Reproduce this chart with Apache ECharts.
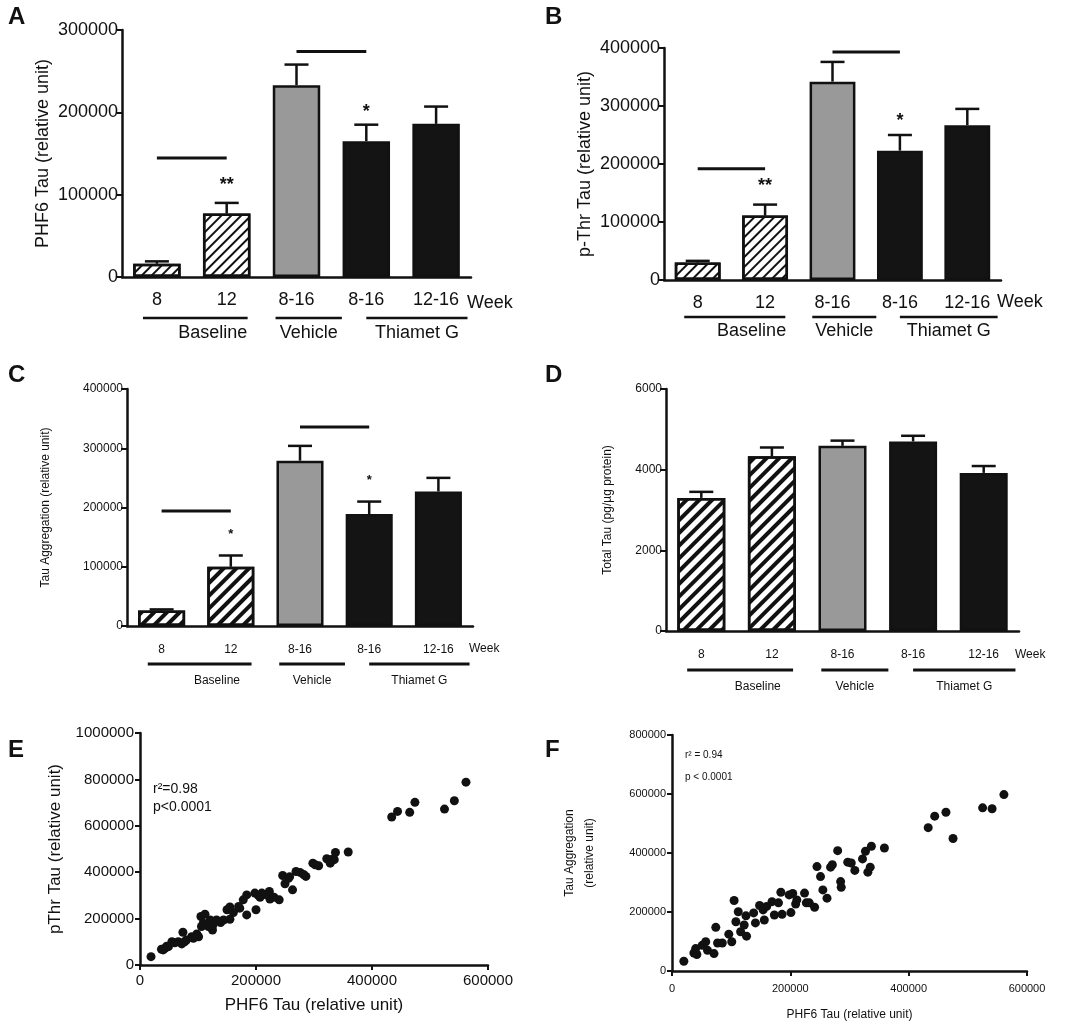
<!DOCTYPE html>
<html><head><meta charset="utf-8">
<script src="https://cdn.jsdelivr.net/npm/echarts@6/dist/echarts.min.js"></script>
<style>html,body{margin:0;background:#fff}#main{width:1078px;height:1034px}</style>
</head><body><div id="main"></div>
<script>
var weeks = ['8', '12', '8-16', '8-16', '12-16'];
// bar means and top of error bars
var phf6Mean = [16000, 77000, 233000, 165000, 186000];
var phf6Err = [19000, 90000, 258000, 185000, 207000];
var pthrMean = [30000, 111000, 342000, 223000, 267000];
var pthrErr = [33000, 130000, 376000, 250000, 295000];
var aggMean = [26000, 100000, 279000, 189000, 227000];
var aggErr = [28000, 119000, 304000, 210000, 250000];
var totalMean = [3300, 4330, 4590, 4700, 3920];
var totalErr = [3450, 4550, 4720, 4840, 4090];
// significance: [from cat, to cat, level], stars: [cat, value, text]
var sigA = [[0, 1, 144500], [2, 3, 274000]], starA = [[1, 112000, '**'], [3, 200000, '*']];
var sigB = [[0, 1, 192000], [2, 3, 393000]], starB = [[1, 162000, '**'], [3, 274000, '*']];
var sigC = [[0, 1, 194000], [2, 3, 336000]], starC = [[1, 155000, '*'], [3, 245000, '*']];

// scatter E: PHF6 vs pThr
var scatterE = [[19000,36000],[37000,68000],[43000,72000],[49000,79000],[55000,100000],[60000,96000],[72000,91000],[74000,141000],
[80000,108000],[89000,122000],[98000,134000],[101000,122000],[105000,209000],[112000,219000],[106000,166000],[115000,177000],
[121000,194000],[125000,151000],[126000,173000],[139000,183000],[150000,238000],[155000,197000],[161000,226000],[170000,252000],
[178000,281000],[184000,302000],[184000,216000],[198000,310000],[200000,238000],[207000,292000],[210000,310000],[223000,317000],
[224000,284000],[231000,292000],[240000,281000],[246000,386000],[250000,350000],[256000,374000],[263000,324000],[269000,403000],
[276000,399000],[286000,382000],[298000,439000],[308000,428000],[322000,458000],[328000,439000],[335000,454000],[337000,485000],
[359000,487000],[434000,638000],[444000,662000],[465000,658000],[474000,701000],[525000,672000],[542000,708000],[562000,788000],
[40000,65000],[46000,81000],[66000,100000],[77000,100000],[92000,115000],[109000,180000],[118000,166000],[132000,194000],
[144000,194000],[155000,250000],[172000,245000],[204000,300000],[216000,304000],[258000,380000],[282000,390000],[302000,432000],[330000,455000]];
// scatter F: PHF6 vs Tau aggregation
var scatterF = [[20000,33000],[37000,61000],[42000,56000],[40000,76000],[51000,87000],[57000,99000],[60000,70000],[71000,59000],
[74000,148000],[77000,95000],[85000,95000],[96000,125000],[101000,99000],[105000,239000],[108000,167000],[112000,201000],
[116000,133000],[122000,156000],[125000,187000],[126000,118000],[138000,197000],[141000,163000],[148000,222000],[154000,207000],
[156000,173000],[160000,219000],[169000,235000],[173000,190000],[180000,231000],[184000,267000],[186000,192000],[198000,258000],
[201000,198000],[204000,263000],[209000,227000],[211000,241000],[224000,264000],[227000,231000],[232000,231000],[241000,216000],
[245000,354000],[251000,320000],[255000,275000],[262000,247000],[268000,352000],[271000,360000],[280000,408000],[285000,303000],
[286000,284000],[297000,369000],[303000,366000],[309000,341000],[322000,380000],[327000,406000],[331000,335000],[335000,352000],
[337000,423000],[359000,417000],[433000,486000],[444000,525000],[463000,538000],[475000,449000],[525000,553000],[541000,550000],[561000,598000]];

var FONT = 'Liberation Sans';
var myChart = echarts.init(document.getElementById('main'));
var plain = function(v) { return String(v); }; // no thousands separators

var panels = [
	{ grid: {left: 122, top: 30, width: 349, height: 247}, max: 300000, interval: 100000, mean: phf6Mean, err: phf6Err, sig: sigA, star: starA,
		title: 'PHF6 Tau (relative unit)', fs: 18, nameGap: 70, hatch: [1.5, 5], big: true },
	{ grid: {left: 664, top: 48, width: 337, height: 232}, max: 400000, interval: 100000, mean: pthrMean, err: pthrErr, sig: sigB, star: starB,
		title: 'p-Thr Tau (relative unit)', fs: 18, nameGap: 70, hatch: [1.5, 5], big: true },
	{ grid: {left: 127, top: 389, width: 346, height: 237}, max: 400000, interval: 100000, mean: aggMean, err: aggErr, sig: sigC, star: starC,
		title: 'Tau Aggregation (relative unit)', fs: 12, nameGap: 75, hatch: [3.5, 5], big: false },
	{ grid: {left: 666, top: 389, width: 353, height: 242}, max: 6000, interval: 2000, mean: totalMean, err: totalErr, sig: [], star: [],
		title: 'Total Tau (pg/µg protein)', fs: 12, nameGap: 52, hatch: [3.5, 5], big: false }
];

var grids = [], xAxes = [], yAxes = [], series = [], graphics = [];
var barColors = ['#fff', '#fff', '#999', '#141414', '#141414'];

panels.forEach(function(p, k) {
	grids.push(p.grid);
	xAxes.push({ gridIndex: k, type: 'category', data: weeks,
		axisLine: {lineStyle: {color: '#111', width: 2.5}},
		axisTick: {alignWithLabel: true, length: 6, lineStyle: {width: 2, color: '#111'}},
		axisLabel: {color: '#111', fontSize: p.big ? 18 : 12, fontFamily: FONT, margin: p.big ? 14 : 18} });
	yAxes.push({ gridIndex: k, type: 'value', min: 0, max: p.max, interval: p.interval,
		name: p.title, nameLocation: 'middle', nameGap: p.nameGap,
		nameTextStyle: {fontSize: p.fs, fontFamily: FONT, color: '#111'},
		splitLine: {show: false},
		axisLine: {show: true, lineStyle: {color: '#111', width: 2.5}},
		axisTick: {show: true, length: 6, lineStyle: {width: 2, color: '#111'}},
		axisLabel: {color: '#111', fontSize: p.big ? 18 : 12, fontFamily: FONT, margin: 4, formatter: plain} });
	series.push({ type: 'bar', xAxisIndex: k, yAxisIndex: k, barWidth: '68%',
		data: p.mean.map(function(v, i) {
			var it = {value: v, itemStyle: {color: barColors[i], borderColor: '#111', borderWidth: 2.5}};
			if (i < 2) it.itemStyle.decal = {symbol: 'rect', symbolSize: 1, dashArrayX: [1, 0], dashArrayY: p.hatch, rotation: -Math.PI / 4, color: '#111'};
			return it;
		}), z: 2 });
	// error bars (upper only)
	series.push({ type: 'custom', xAxisIndex: k, yAxisIndex: k, z: 1,
		data: p.err.map(function(e, i) { return [i, p.mean[i], e]; }),
		renderItem: function(params, api) {
			var b = api.coord([api.value(0), api.value(1)]);
			var t = api.coord([api.value(0), api.value(2)]);
			var w = 12;
			return {type: 'group', children: [
				{type: 'line', shape: {x1: b[0], y1: b[1], x2: t[0], y2: t[1]}, style: {stroke: '#111', lineWidth: 2.5}},
				{type: 'line', shape: {x1: t[0] - w, y1: t[1], x2: t[0] + w, y2: t[1]}, style: {stroke: '#111', lineWidth: 2.5}}
			]};
		} });
	// significance lines
	series.push({ type: 'custom', xAxisIndex: k, yAxisIndex: k,
		data: p.sig,
		renderItem: function(params, api) {
			var a = api.coord([api.value(0), api.value(2)]);
			var b = api.coord([api.value(1), api.value(2)]);
			return {type: 'line', shape: {x1: a[0], y1: a[1], x2: b[0], y2: b[1]}, style: {stroke: '#111', lineWidth: 3}};
		} });
	series.push({ type: 'custom', xAxisIndex: k, yAxisIndex: k,
		data: p.star,
		renderItem: function(params, api) {
			var c = api.coord([api.value(0), api.value(1)]);
			return {type: 'text', x: c[0], y: c[1], style: {text: p.star[params.dataIndex][2], fill: '#111',
				font: 'bold ' + (p.big ? 18 : 13) + 'px ' + FONT, textAlign: 'center', textVerticalAlign: 'middle'}};
		} });
});

// group labels under the category axes
function groups(g, lineY, labelY, fs, lw) {
	var L = g.left, s = g.width / 5;
	var spans = [[L + s * 0.3, L + s * 1.8, 'Baseline'], [L + s * 2.2, L + s * 3.15, 'Vehicle'], [L + s * 3.5, L + s * 4.95, 'Thiamet G']];
	spans.forEach(function(sp) {
		graphics.push({type: 'line', shape: {x1: sp[0], y1: lineY, x2: sp[1], y2: lineY}, style: {stroke: '#111', lineWidth: lw}});
		graphics.push({type: 'text', x: (sp[0] + sp[1]) / 2 + (sp[2] === 'Baseline' ? s * 0.25 : 0), y: labelY,
			style: {text: sp[2], fill: '#111', font: fs + 'px ' + FONT, textAlign: 'center', textVerticalAlign: 'middle'}});
	});
	graphics.push({type: 'text', x: L + g.width - 4, y: lineY - 15,
		style: {text: 'Week', fill: '#111', font: fs + 'px ' + FONT, textAlign: 'left', textVerticalAlign: 'middle'}});
}
groups(panels[0].grid, 318, 333, 18, 2.5);
groups(panels[1].grid, 317, 331, 18, 2.5);
groups(panels[2].grid, 664, 681, 12, 3);
groups(panels[3].grid, 670, 687, 12, 3);

[['A', 8, 5], ['B', 545, 5], ['C', 8, 363], ['D', 545, 363], ['E', 8, 738], ['F', 545, 738]].forEach(function(l) {
	graphics.push({type: 'text', x: l[1], y: l[2], style: {text: l[0], fill: '#111', font: 'bold 24px ' + FONT}});
});

// scatter panels
var scat = [
	{grid: {left: 140, top: 733, width: 348, height: 232}, yMax: 1000000, data: scatterE, big: true,
		yName: 'pThr Tau (relative unit)', r: 'r²=0.98', p: 'p<0.0001', tx: 153, ty: 782},
	{grid: {left: 672, top: 735, width: 355, height: 236}, yMax: 800000, data: scatterF, big: false,
		yName: 'Tau Aggregation\n(relative unit)', r: 'r² = 0.94', p: 'p < 0.0001', tx: 685, ty: 750}
];
scat.forEach(function(s, j) {
	var k = 4 + j;
	var fs = s.big ? 15 : 11;
	grids.push(s.grid);
	xAxes.push({gridIndex: k, type: 'value', min: 0, max: 600000, interval: 200000,
		name: 'PHF6 Tau (relative unit)', nameLocation: 'middle', nameGap: s.big ? 32 : 38,
		nameTextStyle: {fontSize: s.big ? 17 : 12, fontFamily: FONT, color: '#111'},
		splitLine: {show: false},
		axisLine: {lineStyle: {color: '#111', width: 2.5}},
		axisTick: {length: 5, lineStyle: {width: 2, color: '#111'}},
		axisLabel: {color: '#111', fontSize: fs, fontFamily: FONT, margin: s.big ? 8 : 12, showMaxLabel: true, formatter: plain}});
	yAxes.push({gridIndex: k, type: 'value', min: 0, max: s.yMax, interval: 200000,
		name: s.yName, nameLocation: 'middle', nameGap: s.big ? 75 : 72,
		nameTextStyle: {fontSize: s.big ? 17 : 12, fontFamily: FONT, color: '#111', lineHeight: 20},
		splitLine: {show: false},
		axisLine: {show: true, lineStyle: {color: '#111', width: 2.5}},
		axisTick: {show: true, length: 5, lineStyle: {width: 2, color: '#111'}},
		axisLabel: {color: '#111', fontSize: fs, fontFamily: FONT, margin: 6, formatter: plain}});
	series.push({type: 'scatter', xAxisIndex: k, yAxisIndex: k, data: s.data, symbolSize: 9,
		itemStyle: {color: '#111', opacity: 1}});
	graphics.push({type: 'text', x: s.tx, y: s.ty, style: {text: s.r, fill: '#111', font: (s.big ? 14 : 10) + 'px ' + FONT}});
	graphics.push({type: 'text', x: s.tx, y: s.ty + (s.big ? 18 : 22), style: {text: s.p, fill: '#111', font: (s.big ? 14 : 10) + 'px ' + FONT}});
});

myChart.setOption({
	backgroundColor: '#fff',
	animation: false,
	textStyle: {fontFamily: FONT},
	grid: grids, xAxis: xAxes, yAxis: yAxes, series: series,
	graphic: graphics
});
</script>
</body></html>
